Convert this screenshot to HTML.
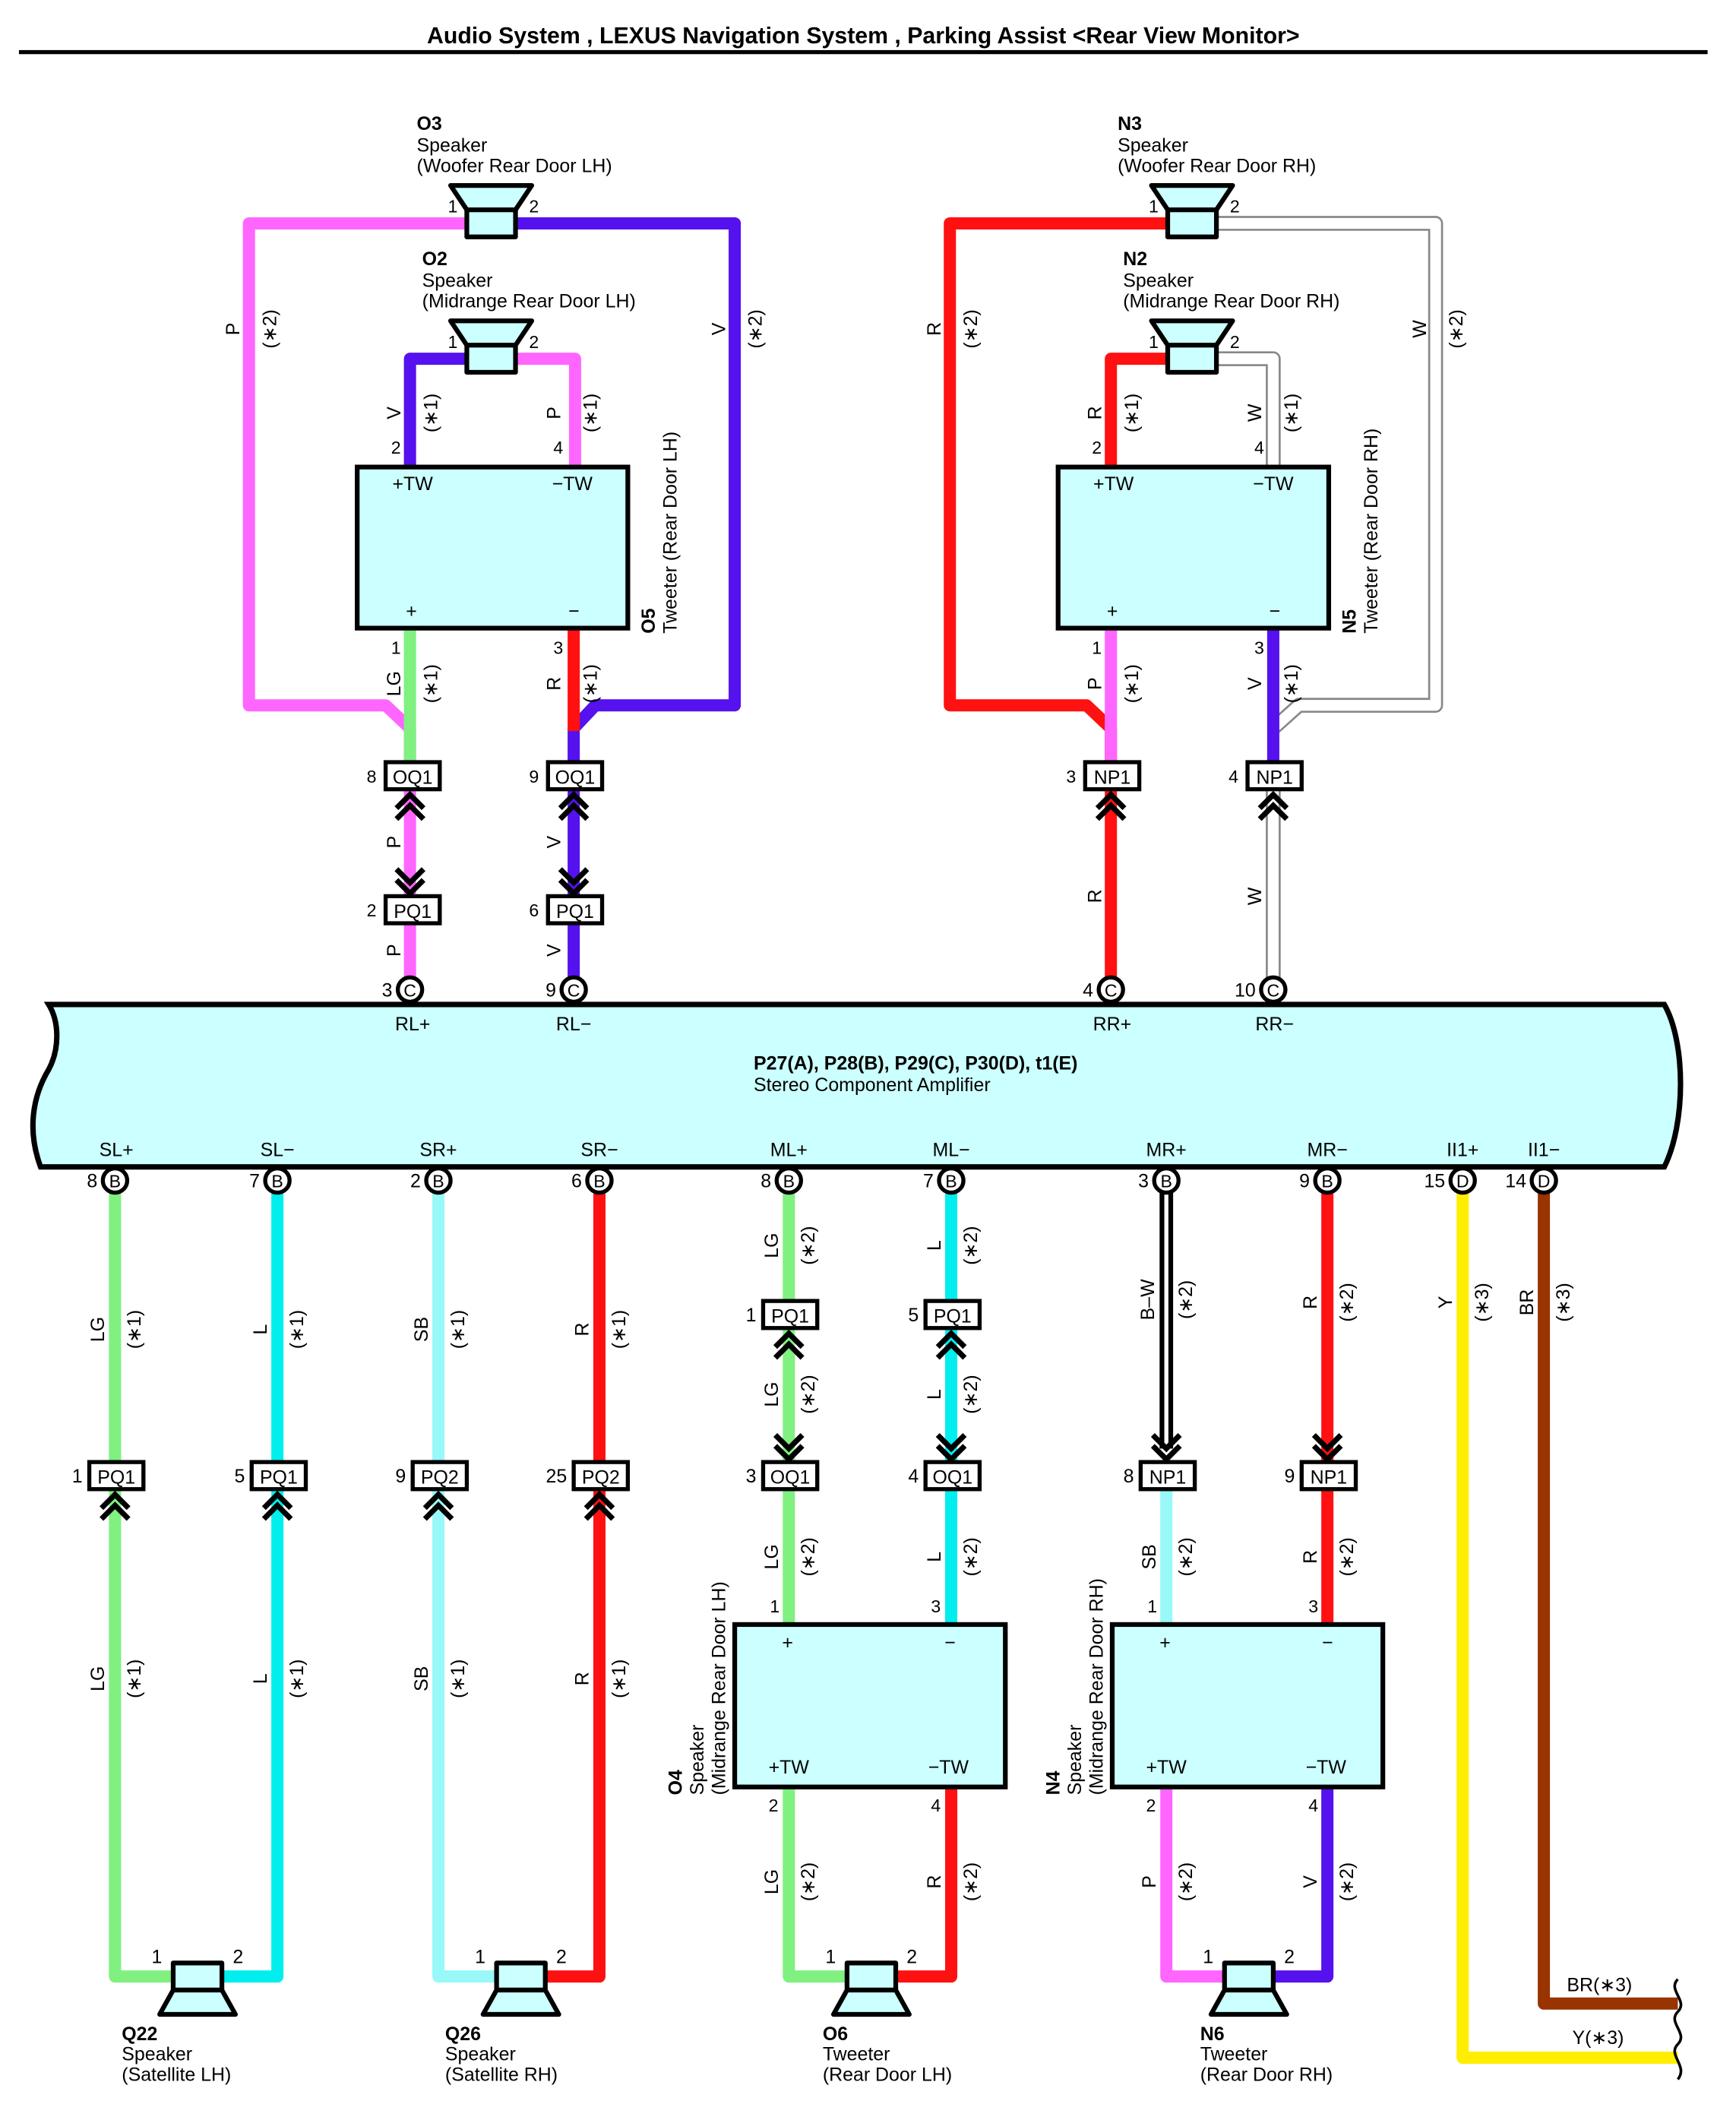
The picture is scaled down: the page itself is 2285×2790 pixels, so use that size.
<!DOCTYPE html>
<html><head><meta charset="utf-8"><style>
html,body{margin:0;padding:0;background:#fff}
svg{display:block}
text{font-family:"Liberation Sans",sans-serif;font-size:14px;fill:#000}
.b{font-weight:bold}
.pin{font-size:13px}
.w{fill:none;stroke-width:9;stroke-linejoin:round}
.ch{fill:none;stroke:#000;stroke-width:4}
.cn{fill:#fff;stroke:#000;stroke-width:3}
.bx{fill:#ccffff;stroke:#000;stroke-width:3.5}
</style></head><body>
<svg width="2285" height="2790" viewBox="0 0 1283 1566" preserveAspectRatio="none" xmlns="http://www.w3.org/2000/svg">
<text x="638" y="32" text-anchor="middle" class="b" style="font-size:17px">Audio System , LEXUS Navigation System , Parking Assist &lt;Rear View Monitor&gt;</text>
<rect x="14" y="37" width="1248" height="3" fill="#000"/>

<path class="w" stroke="#ff66ff" d="M345 165 H184 V521 H285 L303 538 V563"/>
<path class="w" stroke="#5511ee" d="M381 165 H543 V521 H440 L424 538 V563"/>
<path class="w" stroke="#5511ee" d="M345 265 H303 V345"/>
<path class="w" stroke="#ff66ff" d="M381 265 H425 V345"/>
<path class="w" stroke="#80f080" d="M303 464 V563"/>
<path class="w" stroke="#ff1111" d="M424 464 V540"/>
<path class="w" stroke="#ff66ff" d="M303 583 V722"/>
<path class="w" stroke="#5511ee" d="M424 583 V722"/>

<path class="w" stroke="#ff1111" d="M863 165 H702 V521 H803 L821 538 V563"/>
<path fill="none" stroke="#888" stroke-width="11" stroke-linejoin="round" d="M899 165 H1061 V521 H960 L941 538"/>
<path fill="none" stroke="#fff" stroke-width="8" stroke-linejoin="round" d="M899 165 H1061 V521 H960 L941 538"/>
<path class="w" stroke="#ff1111" d="M863 265 H821 V345"/>
<path fill="none" stroke="#888" stroke-width="11" stroke-linejoin="round" d="M899 265 H941 V345"/>
<path fill="none" stroke="#fff" stroke-width="8" stroke-linejoin="round" d="M899 265 H941 V345"/>
<path class="w" stroke="#ff66ff" d="M821 464 V563"/>
<path class="w" stroke="#5511ee" d="M941 464 V563"/>
<path class="w" stroke="#ff1111" d="M821 583 V722"/>
<path fill="none" stroke="#888" stroke-width="11" d="M941 583 V722"/>
<path fill="none" stroke="#fff" stroke-width="8" d="M941 583 V722"/>

<g fill="#ccffff" stroke="#000" stroke-width="3.5" stroke-linejoin="round">
<path d="M333 137 H393 L381 155 H345 Z"/><rect x="345" y="155" width="36" height="20"/>
<path d="M333 237 H393 L381 255 H345 Z"/><rect x="345" y="255" width="36" height="20"/>
<path d="M851 137 H911 L899 155 H863 Z"/><rect x="863" y="155" width="36" height="20"/>
<path d="M851 237 H911 L899 255 H863 Z"/><rect x="863" y="255" width="36" height="20"/>
</g>
<g class="pin">
<text x="331" y="157" class="pin">1</text><text x="391" y="157" class="pin">2</text>
<text x="331" y="257" class="pin">1</text><text x="391" y="257" class="pin">2</text>
<text x="849" y="157" class="pin">1</text><text x="909" y="157" class="pin">2</text>
<text x="849" y="257" class="pin">1</text><text x="909" y="257" class="pin">2</text>
</g>
<text x="308" y="96" class="b">O3</text><text x="308" y="112">Speaker</text><text x="308" y="127">(Woofer Rear Door LH)</text>
<text x="312" y="196" class="b">O2</text><text x="312" y="212">Speaker</text><text x="312" y="227">(Midrange Rear Door LH)</text>
<text x="826" y="96" class="b">N3</text><text x="826" y="112">Speaker</text><text x="826" y="127">(Woofer Rear Door RH)</text>
<text x="830" y="196" class="b">N2</text><text x="830" y="212">Speaker</text><text x="830" y="227">(Midrange Rear Door RH)</text>

<rect class="bx" x="264" y="345" width="200" height="119"/>
<text x="290" y="362">+TW</text><text x="408" y="362">−TW</text><text x="300" y="456">+</text><text x="420" y="456">−</text>
<text class="pin" x="289" y="335">2</text><text class="pin" x="409" y="335">4</text>
<text class="pin" x="289" y="483">1</text><text class="pin" x="409" y="483">3</text>
<text transform="translate(484,468) rotate(-90)" class="b">O5</text>
<text transform="translate(500,468) rotate(-90)">Tweeter (Rear Door LH)</text>

<rect class="bx" x="782" y="345" width="200" height="119"/>
<text x="808" y="362">+TW</text><text x="926" y="362">−TW</text><text x="818" y="456">+</text><text x="938" y="456">−</text>
<text class="pin" x="807" y="335">2</text><text class="pin" x="927" y="335">4</text>
<text class="pin" x="807" y="483">1</text><text class="pin" x="927" y="483">3</text>
<text transform="translate(1002,468) rotate(-90)" class="b">N5</text>
<text transform="translate(1018,468) rotate(-90)">Tweeter (Rear Door RH)</text>

<g class="ch">
<path d="M293 597 L303 587 L313 597 M293 605 L303 595 L313 605"/>
<path d="M414 597 L424 587 L434 597 M414 605 L424 595 L434 605"/>
<path d="M811 597 L821 587 L831 597 M811 605 L821 595 L831 605"/>
<path d="M931 597 L941 587 L951 597 M931 605 L941 595 L951 605"/>
<path d="M293 650 L303 660 L313 650 M293 642 L303 652 L313 642"/>
<path d="M414 650 L424 660 L434 650 M414 642 L424 652 L434 642"/>
</g>
<g>
<rect class="cn" x="285" y="563" width="40" height="20"/><text x="305" y="579" text-anchor="middle">OQ1</text><text class="pin" x="271" y="578">8</text>
<rect class="cn" x="405" y="563" width="40" height="20"/><text x="425" y="579" text-anchor="middle">OQ1</text><text class="pin" x="391" y="578">9</text>
<rect class="cn" x="802" y="563" width="40" height="20"/><text x="822" y="579" text-anchor="middle">NP1</text><text class="pin" x="788" y="578">3</text>
<rect class="cn" x="922" y="563" width="40" height="20"/><text x="942" y="579" text-anchor="middle">NP1</text><text class="pin" x="908" y="578">4</text>
<rect class="cn" x="285" y="662" width="40" height="20"/><text x="305" y="678" text-anchor="middle">PQ1</text><text class="pin" x="271" y="677">2</text>
<rect class="cn" x="405" y="662" width="40" height="20"/><text x="425" y="678" text-anchor="middle">PQ1</text><text class="pin" x="391" y="677">6</text>
</g>

<path fill="#ccffff" stroke="#000" stroke-width="4" d="M36 742 H1230 C1246 770 1246 830 1230 862 H30 C20 835 24 810 36 790 C44 775 44 755 36 742 Z"/>
<text x="557" y="790" class="b">P27(A), P28(B), P29(C), P30(D), t1(E)</text>
<text x="557" y="806">Stereo Component Amplifier</text>
<text x="305" y="761" text-anchor="middle">RL+</text><text x="424" y="761" text-anchor="middle">RL−</text>
<text x="822" y="761" text-anchor="middle">RR+</text><text x="942" y="761" text-anchor="middle">RR−</text>
<g text-anchor="middle">
<text x="86" y="854">SL+</text><text x="205" y="854">SL−</text><text x="324" y="854">SR+</text><text x="443" y="854">SR−</text>
<text x="583" y="854">ML+</text><text x="703" y="854">ML−</text><text x="862" y="854">MR+</text><text x="981" y="854">MR−</text>
<text x="1081" y="854">II1+</text><text x="1141" y="854">II1−</text>
</g>

<path class="w" stroke="#80f080" d="M85 880 V1460 H128"/>
<path class="w" stroke="#00eeee" d="M205 880 V1460 H164"/>
<path class="w" stroke="#99f8f8" d="M324 880 V1460 H367"/>
<path class="w" stroke="#ff1111" d="M443 880 V1460 H403"/>
<path class="w" stroke="#80f080" d="M583 880 V1200 M583 1320 V1460 H626"/>
<path class="w" stroke="#00eeee" d="M703 880 V1200"/>
<path class="w" stroke="#ff1111" d="M703 1320 V1460 H662"/>
<path fill="none" stroke="#000" stroke-width="10" d="M862 880 V1070"/>
<path fill="none" stroke="#fff" stroke-width="3" d="M862 882 V1068"/>
<path class="w" stroke="#99f8f8" d="M862 1100 V1200"/>
<path class="w" stroke="#ff66ff" d="M862 1320 V1460 H905"/>
<path class="w" stroke="#ff1111" d="M981 880 V1200"/>
<path class="w" stroke="#5511ee" d="M981 1320 V1460 H941"/>
<path class="w" stroke="#ffee00" d="M1081 880 V1520 H1240"/>
<path class="w" stroke="#993300" d="M1141 880 V1480 H1240"/>
<path fill="none" stroke="#000" stroke-width="2" d="M1240 1462 C1232 1470 1248 1478 1240 1486 C1232 1494 1248 1502 1240 1510 C1232 1518 1248 1526 1240 1536"/>
<text x="1158" y="1471">BR(∗3)</text><text x="1162" y="1510">Y(∗3)</text>

<rect class="bx" x="543" y="1200" width="200" height="120"/>
<text x="578" y="1218">+</text><text x="698" y="1218">−</text><text x="568" y="1310">+TW</text><text x="686" y="1310">−TW</text>
<text class="pin" x="569" y="1191">1</text><text class="pin" x="688" y="1191">3</text>
<text class="pin" x="568" y="1338">2</text><text class="pin" x="688" y="1338">4</text>
<text transform="translate(504,1326) rotate(-90)" class="b">O4</text>
<text transform="translate(520,1326) rotate(-90)">Speaker</text>
<text transform="translate(536,1326) rotate(-90)">(Midrange Rear Door LH)</text>
<rect class="bx" x="822" y="1200" width="200" height="120"/>
<text x="857" y="1218">+</text><text x="977" y="1218">−</text><text x="847" y="1310">+TW</text><text x="965" y="1310">−TW</text>
<text class="pin" x="848" y="1191">1</text><text class="pin" x="967" y="1191">3</text>
<text class="pin" x="847" y="1338">2</text><text class="pin" x="967" y="1338">4</text>
<text transform="translate(783,1326) rotate(-90)" class="b">N4</text>
<text transform="translate(799,1326) rotate(-90)">Speaker</text>
<text transform="translate(815,1326) rotate(-90)">(Midrange Rear Door RH)</text>

<g class="ch">
<path d="M75 1114 L85 1104 L95 1114 M75 1122 L85 1112 L95 1122"/>
<path d="M195 1114 L205 1104 L215 1114 M195 1122 L205 1112 L215 1122"/>
<path d="M314 1114 L324 1104 L334 1114 M314 1122 L324 1112 L334 1122"/>
<path d="M433 1114 L443 1104 L453 1114 M433 1122 L443 1112 L453 1122"/>
<path d="M573 995 L583 985 L593 995 M573 1003 L583 993 L593 1003"/>
<path d="M693 995 L703 985 L713 995 M693 1003 L703 993 L713 1003"/>
<path d="M573 1068 L583 1078 L593 1068 M573 1060 L583 1070 L593 1060"/>
<path d="M693 1068 L703 1078 L713 1068 M693 1060 L703 1070 L713 1060"/>
<path d="M852 1068 L862 1078 L872 1068 M852 1060 L862 1070 L872 1060"/>
<path d="M971 1068 L981 1078 L991 1068 M971 1060 L981 1070 L991 1060"/>
</g>
<g text-anchor="middle">
<rect class="cn" x="66" y="1080" width="40" height="20"/><text x="86" y="1096">PQ1</text>
<rect class="cn" x="186" y="1080" width="40" height="20"/><text x="206" y="1096">PQ1</text>
<rect class="cn" x="305" y="1080" width="40" height="20"/><text x="325" y="1096">PQ2</text>
<rect class="cn" x="424" y="1080" width="40" height="20"/><text x="444" y="1096">PQ2</text>
<rect class="cn" x="564" y="961" width="40" height="20"/><text x="584" y="977">PQ1</text>
<rect class="cn" x="684" y="961" width="40" height="20"/><text x="704" y="977">PQ1</text>
<rect class="cn" x="564" y="1080" width="40" height="20"/><text x="584" y="1096">OQ1</text>
<rect class="cn" x="684" y="1080" width="40" height="20"/><text x="704" y="1096">OQ1</text>
<rect class="cn" x="843" y="1080" width="40" height="20"/><text x="863" y="1096">NP1</text>
<rect class="cn" x="962" y="1080" width="40" height="20"/><text x="982" y="1096">NP1</text>
</g>
<g class="pin" text-anchor="end">
<text x="61" y="1095">1</text><text x="181" y="1095">5</text><text x="300" y="1095">9</text><text x="419" y="1095">25</text>
<text x="559" y="976">1</text><text x="679" y="976">5</text><text x="559" y="1095">3</text><text x="679" y="1095">4</text>
<text x="838" y="1095">8</text><text x="957" y="1095">9</text>
</g>

<g>
<circle class="cn" cx="303" cy="731" r="9"/><circle class="cn" cx="424" cy="731" r="9"/>
<circle class="cn" cx="821" cy="731" r="9"/><circle class="cn" cx="941" cy="731" r="9"/>
<circle class="cn" cx="85" cy="872" r="9"/><circle class="cn" cx="205" cy="872" r="9"/>
<circle class="cn" cx="324" cy="872" r="9"/><circle class="cn" cx="443" cy="872" r="9"/>
<circle class="cn" cx="583" cy="872" r="9"/><circle class="cn" cx="703" cy="872" r="9"/>
<circle class="cn" cx="862" cy="872" r="9"/><circle class="cn" cx="981" cy="872" r="9"/>
<circle class="cn" cx="1081" cy="872" r="9"/><circle class="cn" cx="1141" cy="872" r="9"/>
</g>
<g text-anchor="middle">
<text x="303" y="736" style="font-size:13px">C</text><text x="424" y="736" style="font-size:13px">C</text>
<text x="821" y="736" style="font-size:13px">C</text><text x="941" y="736" style="font-size:13px">C</text>
<text x="85" y="877" style="font-size:13px">B</text><text x="205" y="877" style="font-size:13px">B</text>
<text x="324" y="877" style="font-size:13px">B</text><text x="443" y="877" style="font-size:13px">B</text>
<text x="583" y="877" style="font-size:13px">B</text><text x="703" y="877" style="font-size:13px">B</text>
<text x="862" y="877" style="font-size:13px">B</text><text x="981" y="877" style="font-size:13px">B</text>
<text x="1081" y="877" style="font-size:13px">D</text><text x="1141" y="877" style="font-size:13px">D</text>
</g>
<g class="pin" text-anchor="end">
<text x="290" y="736">3</text><text x="411" y="736">9</text><text x="808" y="736">4</text><text x="928" y="736">10</text>
<text x="72" y="877">8</text><text x="192" y="877">7</text><text x="311" y="877">2</text><text x="430" y="877">6</text>
<text x="570" y="877">8</text><text x="690" y="877">7</text><text x="849" y="877">3</text><text x="968" y="877">9</text>
<text x="1068" y="877">15</text><text x="1128" y="877">14</text>
</g>

<g fill="#ccffff" stroke="#000" stroke-width="3.5" stroke-linejoin="round">
<rect x="128" y="1450" width="36" height="20"/><path d="M128 1470 H164 L174 1488 H118 Z"/>
<rect x="367" y="1450" width="36" height="20"/><path d="M367 1470 H403 L413 1488 H357 Z"/>
<rect x="626" y="1450" width="36" height="20"/><path d="M626 1470 H662 L672 1488 H616 Z"/>
<rect x="905" y="1450" width="36" height="20"/><path d="M905 1470 H941 L951 1488 H895 Z"/>
</g>
<g class="pin">
<text x="112" y="1450">1</text><text x="172" y="1450">2</text>
<text x="351" y="1450">1</text><text x="411" y="1450">2</text>
<text x="610" y="1450">1</text><text x="670" y="1450">2</text>
<text x="889" y="1450">1</text><text x="949" y="1450">2</text>
</g>
<text x="90" y="1507" class="b">Q22</text><text x="90" y="1522">Speaker</text><text x="90" y="1537">(Satellite LH)</text>
<text x="329" y="1507" class="b">Q26</text><text x="329" y="1522">Speaker</text><text x="329" y="1537">(Satellite RH)</text>
<text x="608" y="1507" class="b">O6</text><text x="608" y="1522">Tweeter</text><text x="608" y="1537">(Rear Door LH)</text>
<text x="887" y="1507" class="b">N6</text><text x="887" y="1522">Tweeter</text><text x="887" y="1537">(Rear Door RH)</text>

<g text-anchor="middle" style="font-size:13px">
<text transform="translate(177,243) rotate(-90)">P</text><text transform="translate(204,243) rotate(-90)">(∗2)</text>
<text transform="translate(536,243) rotate(-90)">V</text><text transform="translate(563,243) rotate(-90)">(∗2)</text>
<text transform="translate(296,305) rotate(-90)">V</text><text transform="translate(323,305) rotate(-90)">(∗1)</text>
<text transform="translate(414,305) rotate(-90)">P</text><text transform="translate(441,305) rotate(-90)">(∗1)</text>
<text transform="translate(296,505) rotate(-90)">LG</text><text transform="translate(323,505) rotate(-90)">(∗1)</text>
<text transform="translate(414,505) rotate(-90)">R</text><text transform="translate(441,505) rotate(-90)">(∗1)</text>
<text transform="translate(296,622) rotate(-90)">P</text><text transform="translate(414,622) rotate(-90)">V</text>
<text transform="translate(296,702) rotate(-90)">P</text><text transform="translate(414,702) rotate(-90)">V</text>
<text transform="translate(695,243) rotate(-90)">R</text><text transform="translate(722,243) rotate(-90)">(∗2)</text>
<text transform="translate(1054,243) rotate(-90)">W</text><text transform="translate(1081,243) rotate(-90)">(∗2)</text>
<text transform="translate(814,305) rotate(-90)">R</text><text transform="translate(841,305) rotate(-90)">(∗1)</text>
<text transform="translate(932,305) rotate(-90)">W</text><text transform="translate(959,305) rotate(-90)">(∗1)</text>
<text transform="translate(814,505) rotate(-90)">P</text><text transform="translate(841,505) rotate(-90)">(∗1)</text>
<text transform="translate(932,505) rotate(-90)">V</text><text transform="translate(959,505) rotate(-90)">(∗1)</text>
<text transform="translate(814,662) rotate(-90)">R</text><text transform="translate(932,662) rotate(-90)">W</text>

<text transform="translate(77,982) rotate(-90)">LG</text><text transform="translate(104,982) rotate(-90)">(∗1)</text>
<text transform="translate(197,982) rotate(-90)">L</text><text transform="translate(224,982) rotate(-90)">(∗1)</text>
<text transform="translate(316,982) rotate(-90)">SB</text><text transform="translate(343,982) rotate(-90)">(∗1)</text>
<text transform="translate(435,982) rotate(-90)">R</text><text transform="translate(462,982) rotate(-90)">(∗1)</text>
<text transform="translate(77,1240) rotate(-90)">LG</text><text transform="translate(104,1240) rotate(-90)">(∗1)</text>
<text transform="translate(197,1240) rotate(-90)">L</text><text transform="translate(224,1240) rotate(-90)">(∗1)</text>
<text transform="translate(316,1240) rotate(-90)">SB</text><text transform="translate(343,1240) rotate(-90)">(∗1)</text>
<text transform="translate(435,1240) rotate(-90)">R</text><text transform="translate(462,1240) rotate(-90)">(∗1)</text>

<text transform="translate(575,920) rotate(-90)">LG</text><text transform="translate(602,920) rotate(-90)">(∗2)</text>
<text transform="translate(695,920) rotate(-90)">L</text><text transform="translate(722,920) rotate(-90)">(∗2)</text>
<text transform="translate(575,1030) rotate(-90)">LG</text><text transform="translate(602,1030) rotate(-90)">(∗2)</text>
<text transform="translate(695,1030) rotate(-90)">L</text><text transform="translate(722,1030) rotate(-90)">(∗2)</text>
<text transform="translate(575,1150) rotate(-90)">LG</text><text transform="translate(602,1150) rotate(-90)">(∗2)</text>
<text transform="translate(695,1150) rotate(-90)">L</text><text transform="translate(722,1150) rotate(-90)">(∗2)</text>
<text transform="translate(575,1390) rotate(-90)">LG</text><text transform="translate(602,1390) rotate(-90)">(∗2)</text>
<text transform="translate(695,1390) rotate(-90)">R</text><text transform="translate(722,1390) rotate(-90)">(∗2)</text>

<text transform="translate(853,960) rotate(-90)">B–W</text><text transform="translate(881,960) rotate(-90)">(∗2)</text>
<text transform="translate(973,962) rotate(-90)">R</text><text transform="translate(1000,962) rotate(-90)">(∗2)</text>
<text transform="translate(854,1150) rotate(-90)">SB</text><text transform="translate(881,1150) rotate(-90)">(∗2)</text>
<text transform="translate(973,1150) rotate(-90)">R</text><text transform="translate(1000,1150) rotate(-90)">(∗2)</text>
<text transform="translate(854,1390) rotate(-90)">P</text><text transform="translate(881,1390) rotate(-90)">(∗2)</text>
<text transform="translate(973,1390) rotate(-90)">V</text><text transform="translate(1000,1390) rotate(-90)">(∗2)</text>

<text transform="translate(1073,962) rotate(-90)">Y</text><text transform="translate(1100,962) rotate(-90)">(∗3)</text>
<text transform="translate(1133,962) rotate(-90)">BR</text><text transform="translate(1160,962) rotate(-90)">(∗3)</text>
</g>
</svg>
</body></html>
